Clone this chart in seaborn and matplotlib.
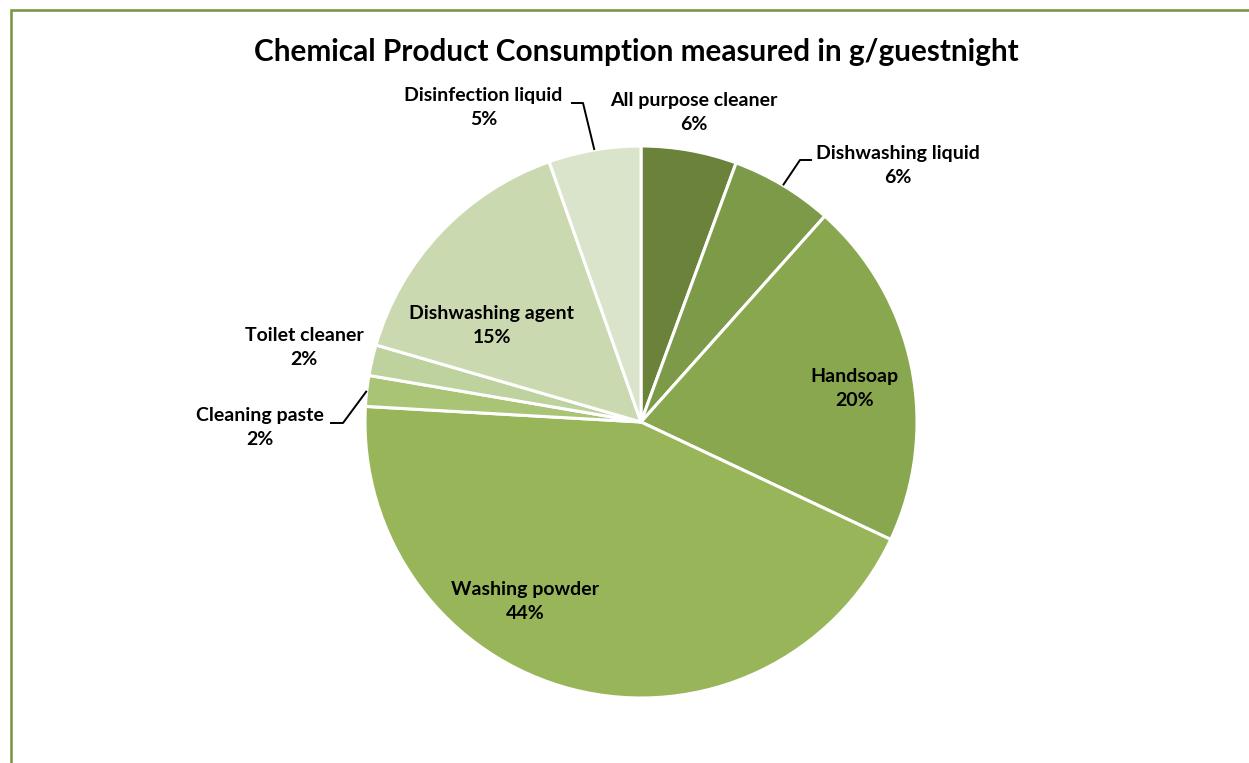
import numpy as np
import matplotlib
matplotlib.use("Agg")
import matplotlib.pyplot as plt
import seaborn as sns
from matplotlib.patches import Rectangle

# data (clockwise from 12 o'clock)
products = ["All purpose cleaner", "Dishwashing liquid", "Handsoap", "Washing powder",
            "Cleaning paste", "Toilet cleaner", "Dishwashing agent", "Disinfection liquid"]
shares = [5.6, 6.0, 20.4, 43.9, 1.8, 1.8, 15.1, 5.4]
pct_labels = ["6%", "6%", "20%", "44%", "2%", "2%", "15%", "5%"]
colors = ["#6A823A", "#7C9A47", "#89A74E", "#98B659", "#AAC476", "#BDD29C", "#CBD9B1", "#DAE4CB"]

# label centres in data units (pie radius = 1)
label_pos = [(0.19, 1.12), (0.93, 0.93), (0.775, 0.12), (-0.42, -0.65),
             (-1.38, -0.02), (-1.22, 0.27), (-0.54, 0.35), (-0.57, 1.14)]

sns.set_theme(style="white")
plt.rcParams["font.family"] = ["Lato", "DejaVu Sans"]

W, H = 1249, 763
fig = plt.figure(figsize=(W / 100, H / 100), dpi=100)
fig.patch.set_facecolor("white")

cx, cy, r = 641, 422, 276
ax = fig.add_axes([(cx - r) / W, (H - cy - r) / H, 2 * r / W, 2 * r / H])
wedges, _ = ax.pie(shares, colors=colors, startangle=90, counterclock=False,
                   wedgeprops=dict(edgecolor="white", linewidth=2.2))
ax.set_xlim(-1, 1)
ax.set_ylim(-1, 1)
ax.set_aspect("equal")
ax.axis("off")

for name, pct, (lx, ly) in zip(products, pct_labels, label_pos):
    ax.text(lx, ly, f"{name}\n{pct}", ha="center", va="center", fontsize=14,
            fontweight="bold", color="black", linespacing=1.5, clip_on=False)


def edge_point(w):
    ang = np.deg2rad((w.theta1 + w.theta2) / 2)
    return np.cos(ang), np.sin(ang)


def px(x, y):
    return (x - cx) / r, (cy - y) / r


# leader lines for the small outer labels
leaders = {1: [px(800, 160), px(812, 160)],
           4: [px(343, 423), px(330, 423)],
           7: [px(583, 103), px(571, 103)]}
for i, pts in leaders.items():
    ex, ey = edge_point(wedges[i])
    xs = [ex] + [p[0] for p in pts]
    ys = [ey] + [p[1] for p in pts]
    ax.plot(xs, ys, color="black", lw=1.4, clip_on=False, solid_capstyle="butt")

fig.text(636 / W, 1 - 52 / H, "Chemical Product Consumption measured in g/guestnight",
         ha="center", va="center", fontsize=21.4, fontweight="bold", color="black")

# green frame, partly outside the picture
fig.add_artist(Rectangle((11 / W, -0.1), 1.5, 1 - 10 / H + 0.1, transform=fig.transFigure,
                         fill=False, edgecolor="#77933C", linewidth=1.8))

fig.savefig("out.png", dpi=100, facecolor="white")
